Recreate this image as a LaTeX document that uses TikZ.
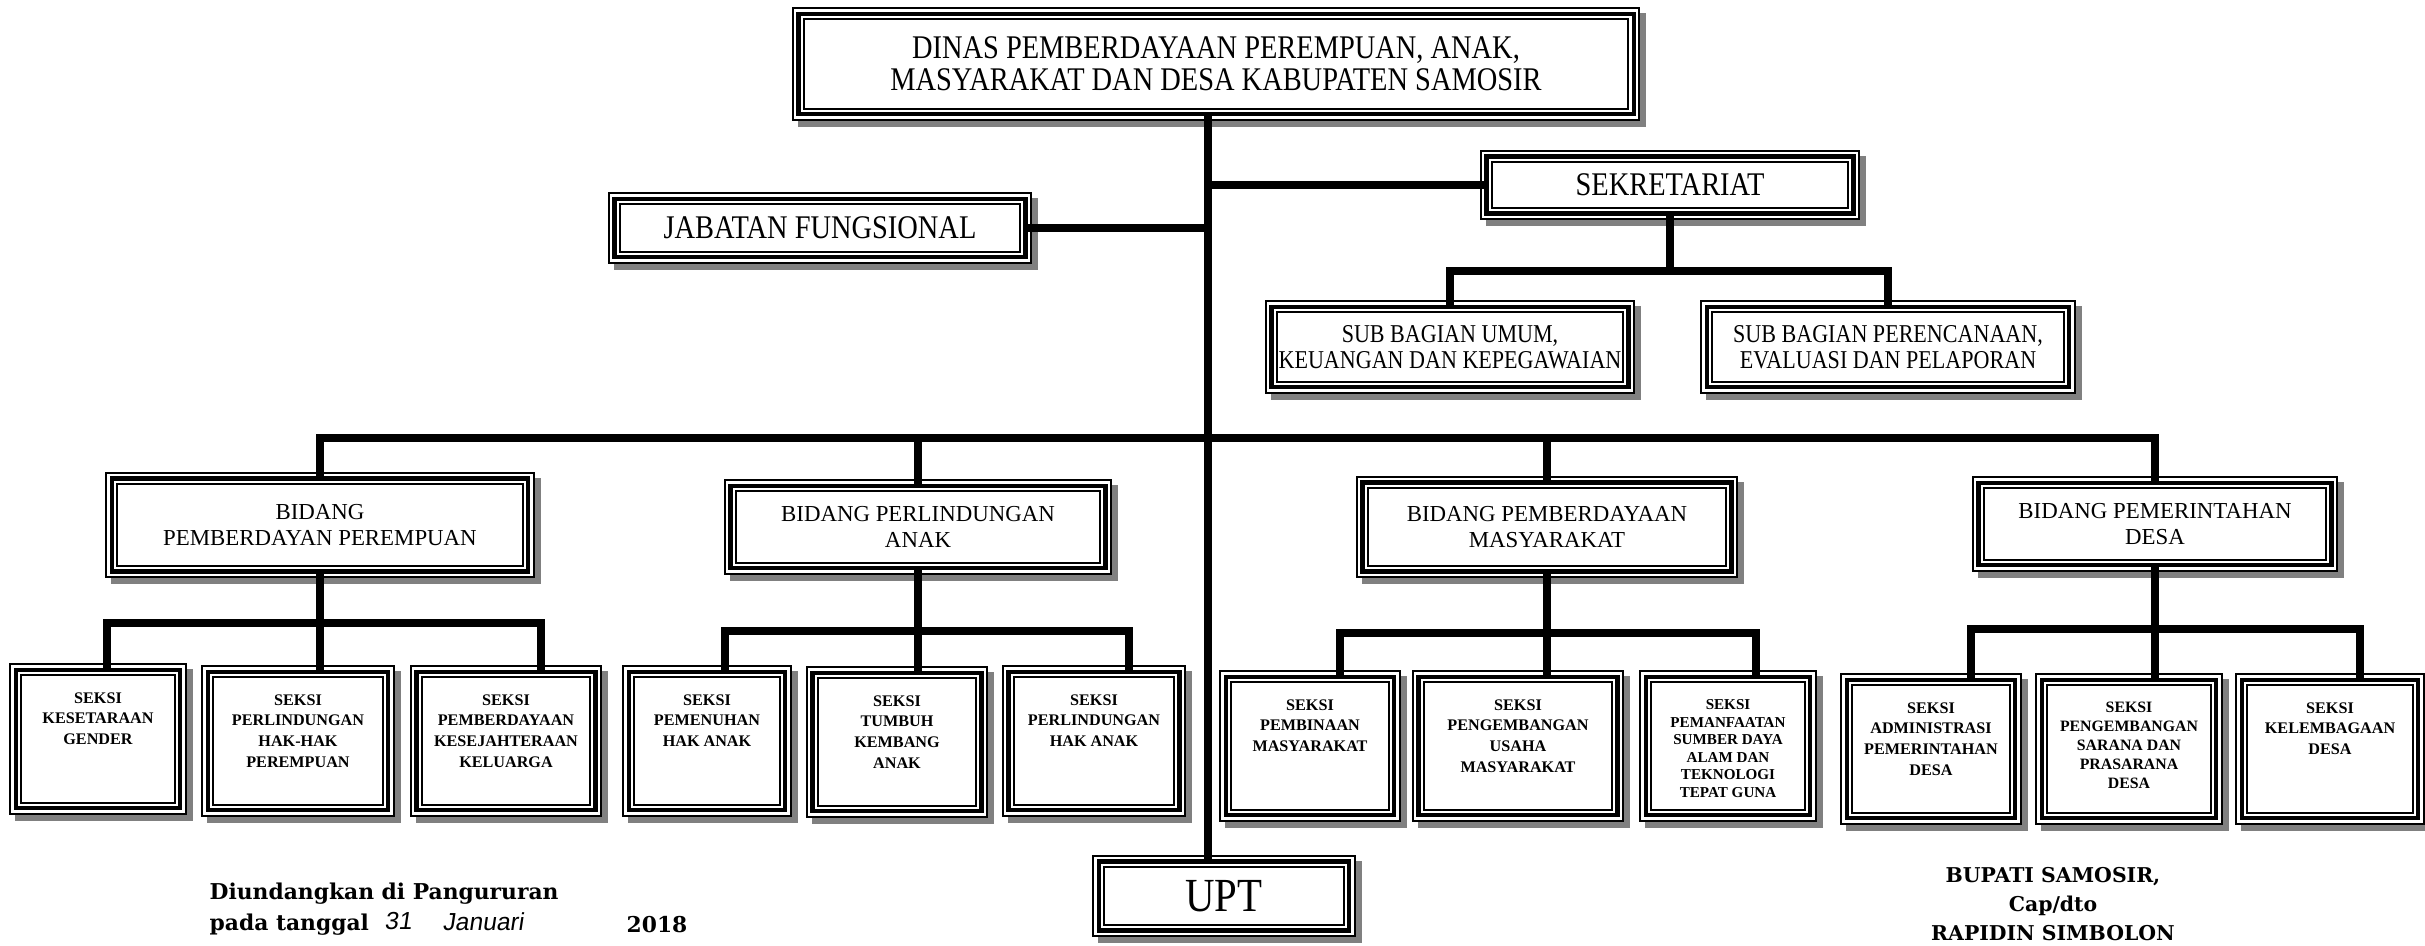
\documentclass[tikz,border=0pt]{standalone}
\usepackage{fontspec}
\setmainfont{Liberation Serif}
\newfontfamily\condfont{Liberation Serif}[FakeStretch=0.86]
\newfontfamily\notefont{DejaVu Serif}
\newfontfamily\handfont{Liberation Sans}[FakeSlant=0.15]
\tikzset{
  orgbox/.style={rectangle, inner sep=0pt, align=center,
    preaction={fill=black!50, draw=black!50, line width=1.3mm,
      transform canvas={xshift=0.6mm, yshift=-0.6mm}},
    preaction={fill=white},
    preaction={draw=black, line width=1.3mm},
    preaction={draw=white, line width=0.9mm},
    draw=black, line width=0.45mm},
  headbox/.style={orgbox, font={\condfont\fontsize{9.4}{9.2}\selectfont}},
  subbox/.style={orgbox, font={\condfont\fontsize{7.3}{7.4}\selectfont}},
  bidangbox/.style={orgbox, font={\fontsize{6.5}{7.3}\selectfont}},
  seksibox/.style={orgbox, inner ysep=2.25mm, minimum height=1.38cm,
    font={\bfseries\fontsize{4.6}{5.9}\selectfont},
    execute at begin node={\begin{minipage}[c][0.93cm][t]{1.55cm}\centering},
    execute at end node={\end{minipage}}},
  conn/.style={line width=0.75mm, color=black},
  note/.style={inner sep=0pt, font={\notefont\bfseries\fontsize{6.2}{8.3}\selectfont}},
  hand/.style={inner sep=0pt, font={\handfont\fontsize{7}{7}\selectfont}}
}
\begin{document}
\begin{tikzpicture}[x=0.01cm, y=-0.01cm]
  \fill[white] (0,0) rectangle (2425,945);
  \useasboundingbox (0,0) rectangle (2425,945);
  % top level
  \node[headbox, minimum width=8.35cm, minimum height=1.0cm] (dinas) at (1216,64)
    {DINAS PEMBERDAYAAN PEREMPUAN, ANAK,\\MASYARAKAT DAN DESA KABUPATEN SAMOSIR};
  \node[headbox, minimum width=4.11cm, minimum height=0.58cm] (jabatan) at (820,228) {JABATAN FUNGSIONAL};
  \node[headbox, minimum width=3.67cm, minimum height=0.57cm] (sekretariat) at (1670,185) {SEKRETARIAT};
  \node[subbox, minimum width=3.57cm, minimum height=0.8cm] (subumum) at (1450,347)
    {SUB BAGIAN UMUM,\\KEUANGAN DAN KEPEGAWAIAN};
  \node[subbox, minimum width=3.62cm, minimum height=0.8cm] (subrenc) at (1888,347)
    {SUB BAGIAN PERENCANAAN,\\EVALUASI DAN PELAPORAN};
  \node[headbox, font={\condfont\fontsize{13.5}{12}\selectfont}, minimum width=2.5cm, minimum height=0.69cm]
    (upt) at (1224,896) {UPT};
  % bidang
  \node[bidangbox, minimum width=4.16cm, minimum height=0.93cm] (bperempuan) at (320,525) {BIDANG\\PEMBERDAYAN PEREMPUAN};
  \node[bidangbox, minimum width=3.75cm, minimum height=0.82cm] (banak) at (918,527) {BIDANG PERLINDUNGAN\\ANAK};
  \node[bidangbox, minimum width=3.69cm, minimum height=0.89cm] (bmasy) at (1547,527) {BIDANG PEMBERDAYAAN\\MASYARAKAT};
  \node[bidangbox, minimum width=3.53cm, minimum height=0.82cm] (bdesa) at (2155,524) {BIDANG PEMERINTAHAN\\DESA};
  % seksi perempuan
  \node[seksibox, minimum width=1.64cm] (s11) at (98,739) {SEKSI\\KESETARAAN\\GENDER};
  \node[seksibox, minimum width=1.80cm] (s12) at (298,741) {SEKSI\\PERLINDUNGAN\\HAK-HAK\\PEREMPUAN};
  \node[seksibox, minimum width=1.79cm] (s13) at (506,741) {SEKSI\\PEMBERDAYAAN\\KESEJAHTERAAN\\KELUARGA};
  % seksi anak
  \node[seksibox, minimum width=1.56cm] (s21) at (707,741) {SEKSI\\PEMENUHAN\\HAK ANAK};
  \node[seksibox, minimum width=1.69cm] (s22) at (897,742) {SEKSI\\TUMBUH\\KEMBANG\\ANAK};
  \node[seksibox, minimum width=1.71cm] (s23) at (1094,741) {SEKSI\\PERLINDUNGAN\\HAK ANAK};
  % seksi masyarakat
  \node[seksibox, minimum width=1.68cm] (s31) at (1310,746) {SEKSI\\PEMBINAAN\\MASYARAKAT};
  \node[seksibox, minimum width=1.99cm] (s32) at (1518,746) {SEKSI\\PENGEMBANGAN\\USAHA\\MASYARAKAT};
  \node[seksibox, minimum width=1.64cm, font={\bfseries\fontsize{4.3}{5.0}\selectfont}] (s33) at (1728,746)
    {SEKSI\\PEMANFAATAN\\SUMBER DAYA\\ALAM DAN\\TEKNOLOGI\\TEPAT GUNA};
  % seksi desa
  \node[seksibox, minimum width=1.68cm] (s41) at (1931,749) {SEKSI\\ADMINISTRASI\\PEMERINTAHAN\\DESA};
  \node[seksibox, minimum width=1.74cm, font={\bfseries\fontsize{4.5}{5.4}\selectfont}] (s42) at (2129,749)
    {SEKSI\\PENGEMBANGAN\\SARANA DAN\\PRASARANA\\DESA};
  \node[seksibox, minimum width=1.76cm] (s43) at (2330,749) {SEKSI\\KELEMBAGAAN\\DESA};
  % spine and staff lines
  \coordinate (spine) at (1208,0);
  \draw[conn] (dinas.south -| spine) -- (upt.north -| spine);
  \draw[conn] (jabatan.east) -- (jabatan.east -| spine);
  \draw[conn] (sekretariat.west) -- (sekretariat.west -| spine);
  \coordinate (sekbar) at (1670,271);
  \draw[conn] (sekretariat.south) -- (sekbar);
  \draw[conn] (subumum.north) |- (sekbar) -| (subrenc.north);
  % bidang bar
  \coordinate (bidbar) at (1208,438);
  \draw[conn] (bperempuan.north) |- (bidbar) -| (bdesa.north);
  \draw[conn] (banak.north) -- (banak.north |- bidbar);
  \draw[conn] (bmasy.north) -- (bmasy.north |- bidbar);
  % seksi bars
  \coordinate (g1bar) at (320,623);
  \draw[conn] (bperempuan.south) -- (bperempuan.south |- s12.north);
  \draw[conn] ([xshift=0.9mm]s11.north) |- (g1bar) -| ([xshift=3.5mm]s13.north);
  \coordinate (g2bar) at (918,631);
  \draw[conn] (banak.south) -- (banak.south |- s22.north);
  \draw[conn] ([xshift=1.8mm]s21.north) |- (g2bar) -| ([xshift=3.5mm]s23.north);
  \coordinate (g3bar) at (1547,633);
  \draw[conn] (bmasy.south) -- (bmasy.south |- s32.north);
  \draw[conn] ([xshift=3mm]s31.north) |- (g3bar) -| ([xshift=2.8mm]s33.north);
  \coordinate (g4bar) at (2155,629);
  \draw[conn] (bdesa.south) -- (bdesa.south |- s42.north);
  \draw[conn] ([xshift=4mm]s41.north) |- (g4bar) -| ([xshift=3mm]s43.north);
  % notes
  \node[note, anchor=west] (diundangkan) at (209,894) {Diundangkan di Pangururan};
  \node[note, anchor=west] (tanggal) at (209,925) {pada tanggal};
  \node[hand] (hari) at (398,921) {31};
  \node[hand] (bulan) at (483,922) {Januari};
  \node[note] (tahun) at (657,925) {2018};
  \node[note, align=center, font={\notefont\bfseries\fontsize{5.8}{8.3}\selectfont}] (bupati) at (2053,904)
    {BUPATI SAMOSIR,\\Cap/dto\\RAPIDIN SIMBOLON};
\end{tikzpicture}
\end{document}
